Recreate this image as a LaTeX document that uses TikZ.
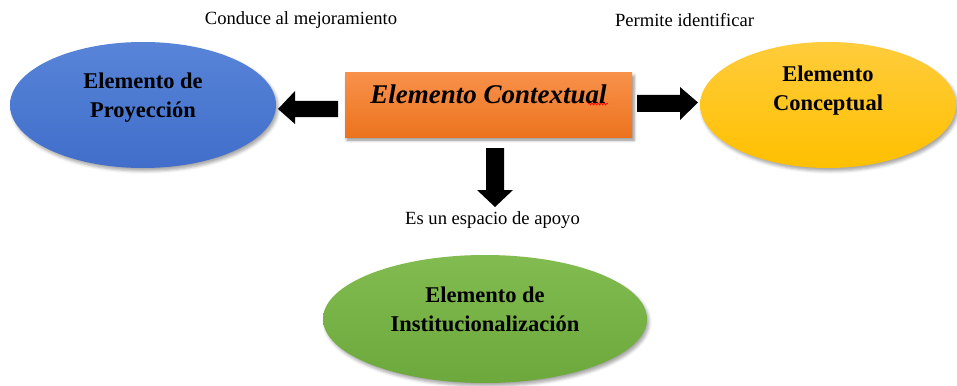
\documentclass[tikz,border=0pt]{standalone}
\usepackage{fontspec}
\setmainfont{Liberation Serif}
\usetikzlibrary{shapes.geometric,shadows.blur,decorations.pathmorphing}
\begin{document}
\begin{tikzpicture}[x=1pt,y=-1pt,
  ellbox/.style={ellipse, draw=none, inner sep=0pt,
    blur shadow={shadow xshift=2pt, shadow yshift=-3pt, shadow blur radius=3pt, shadow opacity=35}},
  elltext/.style={font=\fontsize{22.5}{29}\selectfont\bfseries, align=center, text=black},
  lbl/.style={font=\fontsize{18.6}{22}\selectfont, text=black},
  blockarrow/.style={fill=black, draw=none}
]
\useasboundingbox (0,0) rectangle (957,385);
% ellipses
\node[ellbox, minimum width=266pt, minimum height=126pt,
  top color={rgb,255:red,88;green,132;blue,216}, bottom color={rgb,255:red,64;green,110;blue,202}] (proj) at (143,105) {};
\node[ellbox, minimum width=256pt, minimum height=126pt,
  top color={rgb,255:red,255;green,204;blue,60}, bottom color={rgb,255:red,255;green,192;blue,0}] (conc) at (828,105) {};
\node[ellbox, minimum width=324pt, minimum height=128pt,
  top color={rgb,255:red,130;green,188;blue,80}, bottom color={rgb,255:red,108;green,168;blue,60}] (inst) at (485,319) {};
% orange box
\node[draw=none, minimum width=287pt, minimum height=64pt, inner sep=0pt,
  top color={rgb,255:red,248;green,145;blue,75}, bottom color={rgb,255:red,236;green,115;blue,30},
  blur shadow={shadow xshift=2pt, shadow yshift=-3pt, shadow blur radius=3pt, shadow opacity=45}] (ctx) at (488.5,105) {};
\node[font=\fontsize{27}{32}\selectfont\bfseries\itshape, text=black] (ctxt) at (488.5,94) {Elemento Contextual};
\draw[red, line width=0.7pt, decorate, decoration={snake, amplitude=0.9pt, segment length=3pt}] (ctxt.south east) ++(-22,-3) coordinate (sq1) -- ++(20,0) coordinate (sq2);
% ellipse texts
\node[elltext] (projt) at (143,97.5) {Elemento de\\Proyección};
\node[elltext] (conct) at (828,91) {Elemento\\Conceptual};
\node[elltext] (instt) at (485,309) {Elemento de\\Institucionalización};
% block arrows
\fill[blockarrow] (338,101) -- (295,101) -- (295,91) -- (278,109) -- (295,124) -- (295,117) -- (338,117) -- cycle;
\fill[blockarrow] (637,95) -- (680,95) -- (680,87) -- (698,102.5) -- (680,120) -- (680,112) -- (637,112) -- cycle;
\fill[blockarrow] (486,148) -- (504,148) -- (504,190) -- (513,190) -- (495,207) -- (477,190) -- (486,190) -- cycle;
% labels
\node[lbl] (l1) at (301,20) {Conduce al mejoramiento};
\node[lbl] (l2) at (684.5,20) {Permite identificar};
\node[lbl] (l3) at (492.5,220) {Es un espacio de apoyo};
\end{tikzpicture}
\end{document}
